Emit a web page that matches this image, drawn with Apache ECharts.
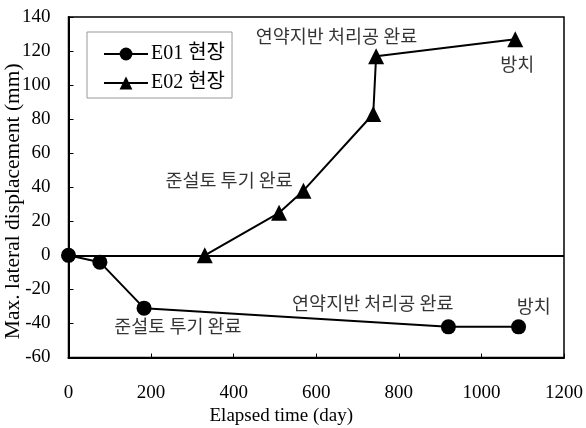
<!DOCTYPE html>
<html><head><meta charset="utf-8">
<script src="https://cdn.jsdelivr.net/npm/echarts@6/dist/echarts.min.js"></script>
<style>html,body{margin:0;padding:0;background:#fff}#c{width:586px;height:428px}</style>
</head><body><div id="c"></div>
<script>
const seriesNames = ['E01 현장', 'E02 현장'];
const e01Days = [0, 76, 183, 920, 1090];
const e01Disp = [0, -4, -31, -42, -42];
const e02Days = [330, 510, 569, 738, 745, 1082];
const e02Disp = [0, 25, 38, 83, 117, 127];
const annotX = [649, 1087, 389, 737, 1127, 265];
const annotY = [129, 112.6, 44.4, -27.8, -29.6, -41.7];
const annotText = ['연약지반 처리공 완료', '방치', '준설토 투기 완료', '연약지반 처리공 완료', '방치', '준설토 투기 완료'];
const xTicks = [0, 200, 400, 600, 800, 1000, 1200];
const yTicks = [-60, -40, -20, 0, 20, 40, 60, 80, 100, 120, 140];

const FONT = "'Liberation Serif', 'Noto Sans CJK KR', serif";
const KFONT = "'Noto Sans CJK KR', sans-serif";
const chart = echarts.init(document.getElementById('c'), null, {renderer: 'canvas'});
const zip = (a, b) => a.map((v, i) => [v, b[i]]);

chart.setOption({
  animation: false,
  backgroundColor: '#fff',
  grid: {left: 68.5, right: 22, top: 17, bottom: 70.5, show: true, borderColor: '#000', borderWidth: 1.5,
    backgroundColor: 'transparent', containLabel: false, outerBoundsMode: 'none'},
  legend: {
    data: seriesNames,
    orient: 'vertical',
    left: 87, top: 32,
    padding: [12, 7, 5, 16],
    itemWidth: 44, itemHeight: 16, itemGap: 9,
    borderColor: '#999', borderWidth: 1,
    textStyle: {fontFamily: FONT, fontSize: 20, color: '#000', padding: [0, 0, 0, -2]}
  },
  xAxis: {
    type: 'value', min: xTicks[0], max: xTicks[xTicks.length - 1], interval: 200,
    name: 'Elapsed time (day)', nameLocation: 'middle', nameGap: 49, nameMoveOverlap: false,
    nameTextStyle: {fontFamily: FONT, fontSize: 19, color: '#000', padding: [0, 70, 0, 0]},
    axisLine: {onZero: false, lineStyle: {color: '#000', width: 2}},
    axisTick: {inside: true, length: 4, lineStyle: {color: '#000'}},
    axisLabel: {margin: 26, fontFamily: FONT, fontSize: 19, color: '#000', formatter: v => String(v)},
    splitLine: {show: false}
  },
  yAxis: {
    type: 'value', min: yTicks[0], max: yTicks[yTicks.length - 1], interval: 20,
    name: 'Max. lateral displacement (mm)', nameLocation: 'middle', nameGap: 44, nameMoveOverlap: false,
    nameTextStyle: {fontFamily: FONT, fontSize: 21.5, color: '#000', padding: [0, 28, 0, 0]},
    axisLine: {onZero: false, lineStyle: {color: '#000', width: 2}},
    axisTick: {inside: true, length: 5, lineStyle: {color: '#000'}},
    axisLabel: {margin: 18, fontFamily: FONT, fontSize: 19, color: '#000', formatter: v => String(v)},
    splitLine: {show: false}
  },
  series: [
    {
      name: seriesNames[0], type: 'line', data: zip(e01Days, e01Disp),
      symbol: 'circle', symbolSize: 15,
      lineStyle: {color: '#000', width: 2}, itemStyle: {color: '#000'},
      markLine: {silent: true, symbol: 'none', label: {show: false},
        lineStyle: {color: '#000', width: 2, type: 'solid'}, data: [{yAxis: 0}]}
    },
    {
      name: seriesNames[1], type: 'line', data: zip(e02Days, e02Disp),
      symbol: 'triangle', symbolSize: [16, 16],
      lineStyle: {color: '#000', width: 2}, itemStyle: {color: '#000'}
    },
    {
      name: 'annot', type: 'scatter', data: annotX.map((x, i) => [x, annotY[i], annotText[i]]),
      symbolSize: 0, silent: true,
      label: {show: true, position: 'inside', formatter: p => p.data[2], fontFamily: KFONT, fontSize: 18.5, color: '#000'}
    }
  ]
});
</script></body></html>
